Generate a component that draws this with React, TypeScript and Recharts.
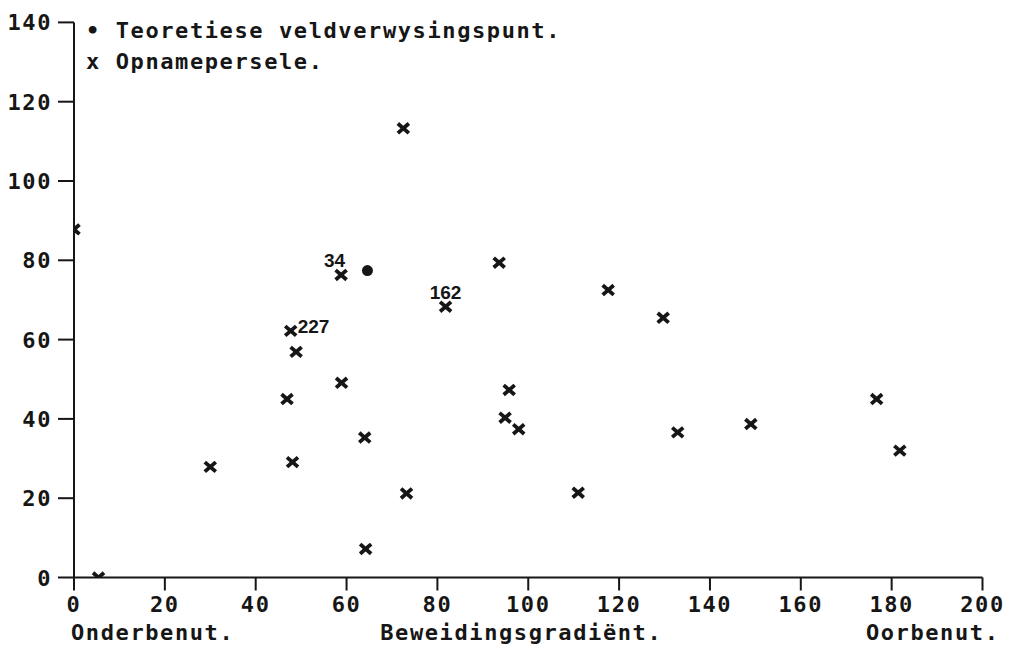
import React from 'react';
import { ScatterChart, Scatter, XAxis, YAxis } from 'recharts';

// Beweidingsgradiënt (x) teenoor tweede as (y)
const xTicks = [0, 20, 40, 60, 80, 100, 120, 140, 160, 180, 200];
const yTicks = [0, 20, 40, 60, 80, 100, 120, 140];

// Teoretiese veldverwysingspunt
const refX = [64.6];
const refY = [77.4];

// Opnamepersele
const plotX = [72.5, 0, 58.8, 93.6, 81.8, 47.7, 48.9, 58.9, 46.9, 95.8, 94.9, 97.9, 64.0, 30.0, 48.1, 73.2, 64.2, 5.4, 117.6, 129.7, 111.0, 132.9, 149.0, 176.7, 181.8];
const plotY = [113.3, 87.8, 76.3, 79.4, 68.3, 62.2, 56.9, 49.1, 45.0, 47.3, 40.3, 37.4, 35.3, 27.9, 29.1, 21.2, 7.2, 0, 72.5, 65.5, 21.4, 36.6, 38.7, 45.0, 32.0];
const plotLabels = ['', '', '34', '', '162', '227', '', '', '', '', '', '', '', '', '', '', '', '', '', '', '', '', '', '', ''];

const INK = '#161616';
const MONO = '"DejaVu Sans Mono", monospace';
const FS = 22;
const LS = 1.6;

const refData = refX.map((x, i) => ({ x, y: refY[i] }));
const plotData = plotX.map((x, i) => ({ x, y: plotY[i], label: plotLabels[i] }));

const CrossShape = (props: any) => {
  const { cx, cy, payload } = props;
  if (cx == null || cy == null) return null;
  const w = 5.5;
  const h = 4.8;
  let labelEl = null;
  const label = payload?.label;
  if (label) {
    let tx = cx;
    let ty = cy - 8;
    let anchor: 'start' | 'middle' | 'end' = 'middle';
    if (label === '34') {
      tx = cx + 4;
      anchor = 'end';
    } else if (label === '227') {
      tx = cx + 7;
      ty = cy + 2;
      anchor = 'start';
    }
    labelEl = (
      <text x={tx} y={ty} textAnchor={anchor} fill={INK} fontFamily='"Liberation Sans", Arial, sans-serif' fontWeight="bold" fontSize={19}>
        {label}
      </text>
    );
  }
  return (
    <g>
      <line x1={cx - w} y1={cy - h} x2={cx + w} y2={cy + h} stroke={INK} strokeWidth={3.8} />
      <line x1={cx - w} y1={cy + h} x2={cx + w} y2={cy - h} stroke={INK} strokeWidth={3.8} />
      {labelEl}
    </g>
  );
};

const DotShape = (props: any) => {
  const { cx, cy } = props;
  if (cx == null || cy == null) return null;
  return <circle cx={cx} cy={cy} r={5.5} fill={INK} />;
};

const monoText = { fill: INK, fontFamily: MONO, fontWeight: 'bold', fontSize: FS, letterSpacing: LS } as const;

const XTick = (props: any) => {
  const { x, y, payload } = props;
  const v = payload.value;
  let title = null;
  if (v === 0) {
    title = <text x={x - 3} y={y} dy={47} textAnchor="start" {...monoText}>Onderbenut.</text>;
  } else if (v === 100) {
    title = <text x={x - 7} y={y} dy={47} textAnchor="middle" {...monoText}>Beweidingsgradiënt.</text>;
  } else if (v === 200) {
    title = <text x={x + 17} y={y} dy={47} textAnchor="end" {...monoText}>Oorbenut.</text>;
  }
  return (
    <g>
      <text x={x} y={y} dy={19.5} textAnchor="middle" {...monoText}>
        {v}
      </text>
      {title}
    </g>
  );
};

const YTick = (props: any) => {
  const { x, y, payload } = props;
  return (
    <text x={x - 4} y={y} dy={8} textAnchor="end" {...monoText}>
      {payload.value}
    </text>
  );
};

export default function App() {
  return (
    <div style={{ position: 'absolute', left: 0, top: 0, width: 1022, height: 653, background: '#fff' }}>
      <ScatterChart width={1022} height={653} margin={{ top: 22.4, right: 39.5, bottom: 0, left: 0 }}>
        <XAxis
          type="number"
          dataKey="x"
          domain={[0, 200]}
          ticks={xTicks}
          interval={0}
          height={75.5}
          tickSize={13}
          stroke={INK}
          strokeWidth={2}
          tick={<XTick />}
          allowDataOverflow
        />
        <YAxis
          type="number"
          dataKey="y"
          domain={[0, 140]}
          ticks={yTicks}
          interval={0}
          width={74}
          tickSize={16}
          stroke={INK}
          strokeWidth={2}
          tick={<YTick />}
          allowDataOverflow
        />
        <Scatter name="Opnamepersele." data={plotData} shape={<CrossShape />} isAnimationActive={false} />
        <Scatter name="Teoretiese veldverwysingspunt." data={refData} shape={<DotShape />} isAnimationActive={false} />
      </ScatterChart>
      <div
        style={{
          position: 'absolute',
          left: 86,
          top: 15,
          fontFamily: MONO,
          fontWeight: 'bold',
          fontSize: FS,
          letterSpacing: LS,
          color: INK,
          lineHeight: '31px',
          whiteSpace: 'pre',
        }}
      >
        <div>• Teoretiese veldverwysingspunt.</div>
        <div>x Opnamepersele.</div>
      </div>
    </div>
  );
}
